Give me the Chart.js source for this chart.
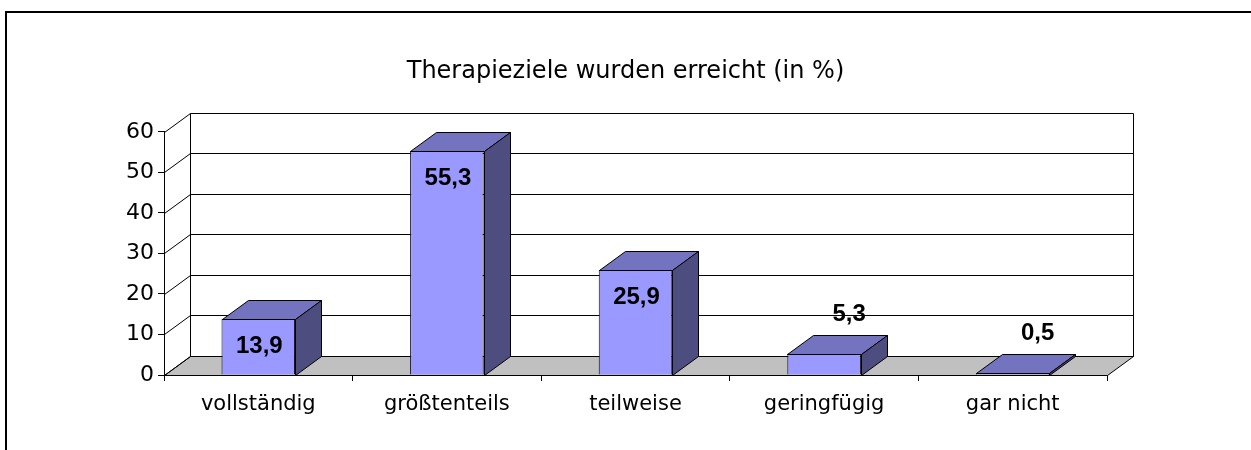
<!DOCTYPE html>
<html>
<head>
<meta charset="utf-8">
<script src="https://cdn.jsdelivr.net/npm/chart.js@4"></script>
<style>
  body { margin: 0; background: #fff; overflow: hidden; }
  #wrap { position: relative; width: 1251px; height: 450px; }
  #frame { position: absolute; left: 5px; top: 11px; width: 2000px; height: 1000px; border: 2px solid #000; }
  #chart { position: absolute; left: 0; top: 0; }
</style>
</head>
<body>
<div id="wrap">
  <div id="frame"></div>
  <canvas id="chart" width="1251" height="450"></canvas>
</div>
<script>
// data
const categories = ["vollständig", "größtenteils", "teilweise", "geringfügig", "gar nicht"];
const percentValues = [13.9, 55.3, 25.9, 5.3, 0.5];
const titleText = "Therapieziele wurden erreicht (in %)";

// 3d depth offset
const DX = 26, DY = -19;
const FONT = "'DejaVu Sans', sans-serif";
const BOLD_FONT = "'Liberation Sans', Arial, sans-serif";

function line(ctx, x1, y1, x2, y2) {
    ctx.beginPath();
    ctx.moveTo(x1, y1);
    ctx.lineTo(x2, y2);
    ctx.stroke();
}

const threeD = {
    id: 'threeD',
    beforeDatasetsDraw(chart) {
        const { ctx, chartArea: a, scales: { y } } = chart;
        const left = Math.round(a.left) + 0.5, right = Math.round(a.right) + 0.5;
        const y0 = Math.round(y.getPixelForValue(0)) + 0.5;
        ctx.save();
        ctx.strokeStyle = '#000';
        ctx.lineWidth = 1;
        // floor
        ctx.fillStyle = '#c0c0c0';
        ctx.beginPath();
        ctx.moveTo(left, y0);
        ctx.lineTo(right, y0);
        ctx.lineTo(right + DX, y0 + DY);
        ctx.lineTo(left + DX, y0 + DY);
        ctx.closePath();
        ctx.fill();
        ctx.stroke();
        // grid on side and back walls
        y.ticks.forEach(t => {
            const py = Math.round(y.getPixelForValue(t.value)) + 0.5;
            line(ctx, left, py, left + DX, py + DY);
            line(ctx, left + DX, py + DY, right + DX, py + DY);
        });
        const top = Math.round(y.getPixelForValue(60)) + 0.5;
        line(ctx, left + DX, top + DY, left + DX, y0 + DY);
        line(ctx, right + DX, top + DY, right + DX, y0 + DY);
        ctx.restore();
    },
    afterDatasetsDraw(chart) {
        const { ctx } = chart;
        const meta = chart.getDatasetMeta(0);
        ctx.save();
        ctx.strokeStyle = '#000';
        ctx.lineWidth = 1;
        meta.data.forEach((bar, i) => {
            const l = Math.round(bar.x - bar.width / 2) + 0.5;
            const r = Math.round(bar.x + bar.width / 2) + 0.5;
            const t = Math.round(bar.y) + 0.5;
            const b = Math.round(bar.base) + 0.5;
            // top face
            ctx.fillStyle = '#7373bf';
            ctx.beginPath();
            ctx.moveTo(l, t);
            ctx.lineTo(r, t);
            ctx.lineTo(r + DX, t + DY);
            ctx.lineTo(l + DX, t + DY);
            ctx.closePath();
            ctx.fill();
            ctx.stroke();
            // side face
            ctx.fillStyle = '#4d4d80';
            ctx.beginPath();
            ctx.moveTo(r, t);
            ctx.lineTo(r + DX, t + DY);
            ctx.lineTo(r + DX, b + DY);
            ctx.lineTo(r, b);
            ctx.closePath();
            ctx.fill();
            ctx.stroke();

            // value labels
            const txt = percentValues[i].toFixed(1).replace('.', ',');
            ctx.fillStyle = '#000';
            ctx.font = 'bold 24px ' + BOLD_FONT;
            ctx.textAlign = 'center';
            ctx.textBaseline = 'middle';
            if (b - t > 45) {
                ctx.fillText(txt, bar.x + 1, t + 27);
            } else {
                ctx.fillText(txt, bar.x + 25, t - 40);
            }
        });
        ctx.restore();
    }
};

new Chart(document.getElementById('chart'), {
    type: 'bar',
    data: {
        labels: categories,
        datasets: [{
            data: percentValues,
            backgroundColor: '#9999ff',
            borderColor: '#000',
            borderWidth: 1,
            categoryPercentage: 1,
            barPercentage: 0.39
        }]
    },
    options: {
        responsive: false,
        animation: false,
        layout: { padding: 0 },
        plugins: {
            legend: { display: false },
            tooltip: { enabled: false },
            title: {
                display: true,
                text: titleText,
                color: '#000',
                font: { family: FONT, size: 24, weight: 'normal', lineHeight: 1.2 },
                padding: { top: 57, bottom: 46 }
            }
        },
        scales: {
            x: {
                afterFit(scale) { scale.height = 75; },
                grid: { display: true, drawOnChartArea: false, offset: true, tickLength: 6, color: '#000' },
                border: { display: true, color: '#000' },
                ticks: { color: '#000', padding: 11, font: { family: FONT, size: 21 } }
            },
            y: {
                min: 0,
                max: 60,
                afterFit(scale) { scale.width = 164; },
                grid: { display: true, drawOnChartArea: false, tickLength: 6, color: '#000' },
                border: { display: true, color: '#000' },
                ticks: { stepSize: 10, color: '#000', padding: 4, font: { family: FONT, size: 22 } }
            },
            // empty right-hand box, keeps the plot narrower while the title stays centred on the page
            spacer: {
                type: 'linear',
                position: 'right',
                afterFit(scale) { scale.width = 144; },
                grid: { display: false },
                border: { display: false },
                ticks: { display: false }
            }
        }
    },
    plugins: [threeD]
});
</script>
</body>
</html>
